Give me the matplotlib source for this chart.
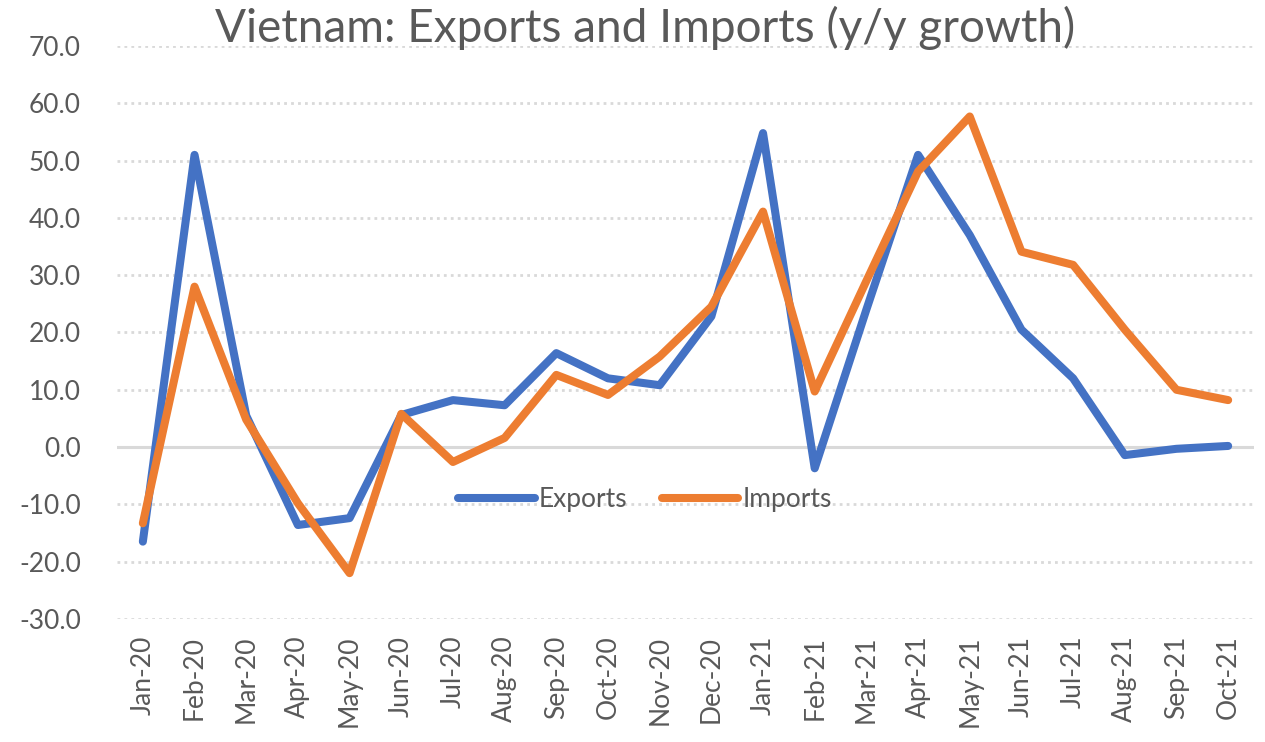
import numpy as np
import matplotlib.pyplot as plt

plt.rcParams['font.family'] = ['Lato', 'DejaVu Sans']

months = ['Jan-20', 'Feb-20', 'Mar-20', 'Apr-20', 'May-20', 'Jun-20', 'Jul-20',
          'Aug-20', 'Sep-20', 'Oct-20', 'Nov-20', 'Dec-20', 'Jan-21', 'Feb-21',
          'Mar-21', 'Apr-21', 'May-21', 'Jun-21', 'Jul-21', 'Aug-21', 'Sep-21',
          'Oct-21']
exports = [-16.5, 51.0, 5.5, -13.6, -12.4, 5.6, 8.2, 7.3, 16.4, 12.0, 10.8,
           22.8, 54.8, -3.7, 24.0, 51.0, 37.0, 20.5, 12.0, -1.4, -0.3, 0.2]
imports = [-13.3, 28.0, 4.8, -9.8, -22.0, 5.8, -2.6, 1.6, 12.6, 9.1, 15.8,
           24.5, 41.1, 9.7, 29.0, 48.1, 57.7, 34.1, 31.8, 20.5, 10.0, 8.2]

grey = '#595959'

fig = plt.figure(figsize=(12.65, 7.42), dpi=100)
ax = fig.add_axes([0.0925, 0.1658, 0.8988, 0.7722])

x = np.arange(len(months))
ax.plot(x, exports, color='#4472C4', lw=5.8, solid_capstyle='round',
        solid_joinstyle='round', label='Exports', zorder=3)
ax.plot(x, imports, color='#ED7D31', lw=5.8, solid_capstyle='round',
        solid_joinstyle='round', label='Imports', zorder=3)

ax.set_xlim(-0.5, len(months) - 0.5)
ax.set_ylim(-30, 70)
ax.set_yticks(np.arange(-30, 71, 10))
ax.set_yticklabels([f'{v:.1f}' for v in np.arange(-30, 71, 10)])
ax.set_xticks(x)
ax.set_xticklabels(months, rotation=90)
ax.tick_params(length=0, labelsize=19, colors=grey, pad=12)
ax.tick_params(axis='y', pad=26)

for v in np.arange(-30, 71, 10):
    if v == 0:
        ax.axhline(0, color='#d9d9d9', lw=2.2, zorder=1)
    else:
        ax.axhline(v, color='#d9d9d9', lw=2.0, ls=(0, (1, 1.5)), zorder=1)

for s in ax.spines.values():
    s.set_visible(False)

fig.text(645 / 1265, 0.962, 'Vietnam: Exports and Imports (y/y growth)',
         ha='center', va='center', fontsize=33, color=grey)

leg = ax.legend(loc='center', bbox_to_anchor=(645 / 1265, 1 - 500 / 742),
                bbox_transform=fig.transFigure, ncol=2, frameon=False,
                fontsize=19, handlelength=2.9, handletextpad=0.15,
                columnspacing=1.3, labelcolor=grey)

fig.savefig('out.png', dpi=100)
